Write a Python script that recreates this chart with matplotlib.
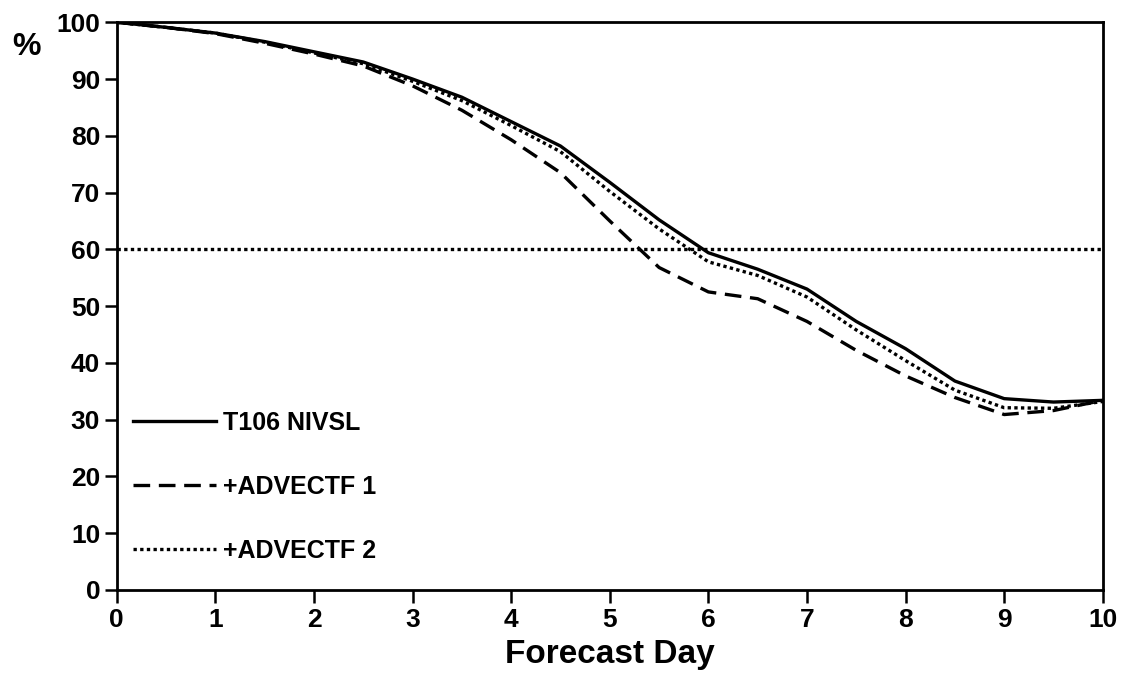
import matplotlib

matplotlib.use("Agg")
import matplotlib.pyplot as plt

# forecast day, every half day
days = [0, 0.5, 1, 1.5, 2, 2.5, 3, 3.5, 4, 4.5, 5, 5.5, 6, 6.5, 7, 7.5, 8, 8.5, 9, 9.5, 10]

t106_nivsl = [100, 99.1, 98.1, 96.6, 94.8, 93.0, 90.0, 86.8, 82.5, 78.2, 71.8,
              65.2, 59.4, 56.5, 53.0, 47.3, 42.5, 36.8, 33.7, 33.1, 33.4]
advectf_1 = [100, 99.1, 98.0, 96.3, 94.4, 92.3, 88.8, 84.5, 79.3, 73.5, 65.0,
             56.8, 52.5, 51.3, 47.3, 42.2, 37.7, 33.9, 30.9, 31.6, 33.4]
advectf_2 = [100, 99.1, 98.1, 96.5, 94.6, 92.7, 89.6, 86.2, 81.8, 77.2, 70.2,
             63.6, 57.8, 55.4, 51.6, 45.8, 40.4, 35.2, 32.1, 32.0, 33.2]

threshold = 60
x_ticks = list(range(0, 11))
y_ticks = list(range(0, 101, 10))

plt.rcParams["font.family"] = ["Liberation Sans", "DejaVu Sans"]
plt.rcParams["font.weight"] = "bold"

fig = plt.figure(figsize=(11.23, 6.75), dpi=100)
ax = fig.add_axes([0.104, 0.126, 0.878, 0.841])

ax.axhline(threshold, color="black", lw=2.4, linestyle=(0, (1, 1)))
ax.plot(days, t106_nivsl, color="black", lw=2.4, label="T106 NIVSL")
ax.plot(days, advectf_1, color="black", lw=2.4, linestyle=(0, (5, 2.6)),
        label="+ADVECTF 1")
ax.plot(days, advectf_2, color="black", lw=2.4, linestyle=(0, (1, 1)),
        label="+ADVECTF 2")

ax.set_xlim(0, 10)
ax.set_ylim(0, 100)
ax.set_xticks(x_ticks)
ax.set_yticks(y_ticks)
ax.tick_params(axis="both", direction="out", length=9, width=1.8,
               labelsize=19, pad=3)
ax.tick_params(axis="x", pad=4)
for lab in ax.get_xticklabels() + ax.get_yticklabels():
    lab.set_fontweight("bold")
for side in ["left", "bottom", "right", "top"]:
    ax.spines[side].set_linewidth(2)

ax.set_xlabel("Forecast Day", fontsize=24, fontweight="bold", labelpad=5)
fig.text(0.011, 0.918, "%", fontsize=23, fontweight="bold")

ax.legend(loc="lower left", bbox_to_anchor=(0.004, 0.026), frameon=False,
          handlelength=3.3, handletextpad=0.3, labelspacing=1.6,
          borderpad=0, prop={"weight": "bold", "size": 18})

fig.savefig("out.png", dpi=100)
